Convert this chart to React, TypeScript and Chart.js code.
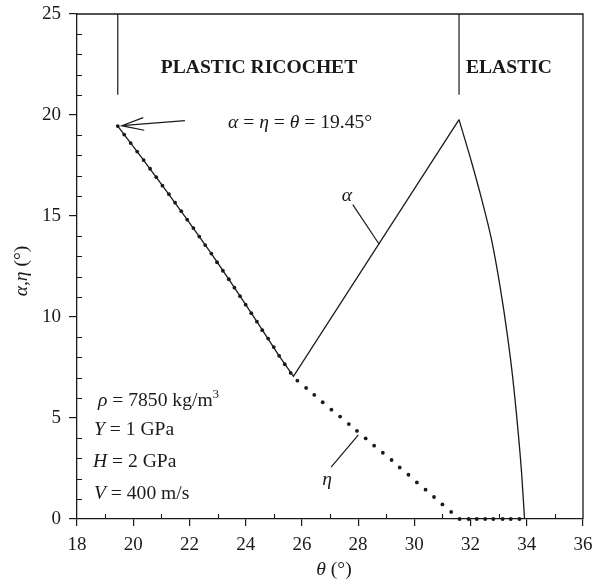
import React, { useEffect, useRef } from 'react';
import { Chart, registerables } from 'chart.js';

Chart.register(...registerables);

const SERIF = '"Liberation Serif", "Times New Roman", Times, serif';
const INK = '#1a1a1a';

// Axis ticks
const xTickValues = [18, 20, 22, 24, 26, 28, 30, 32, 34, 36];
const yTickValues = [0, 5, 10, 15, 20, 25];

// eta (dotted markers)
const etaTheta = [
  19.45, 19.68, 19.91, 20.14, 20.37, 20.6, 20.82, 21.04, 21.27, 21.49,
  21.71, 21.92, 22.14, 22.35, 22.56, 22.78, 22.98, 23.19, 23.4, 23.6,
  23.8, 24.0, 24.2, 24.4, 24.59, 24.8, 25.0, 25.19, 25.39, 25.6,
  25.84, 26.15, 26.44, 26.74, 27.05, 27.36, 27.67, 27.96, 28.27, 28.57,
  28.88, 29.19, 29.48, 29.79, 30.09, 30.4, 30.7, 31.0, 31.31,
  31.61, 31.93, 32.22, 32.52, 32.81, 33.14, 33.43, 33.74,
];
const etaValues = [
  19.45, 19.03, 18.61, 18.19, 17.77, 17.34, 16.92, 16.5, 16.08, 15.66,
  15.24, 14.82, 14.4, 13.98, 13.56, 13.14, 12.71, 12.29, 11.87, 11.45,
  11.03, 10.61, 10.19, 9.77, 9.35, 8.93, 8.51, 8.08, 7.66, 7.23,
  6.85, 6.49, 6.14, 5.78, 5.41, 5.07, 4.7, 4.36, 3.99, 3.63,
  3.28, 2.92, 2.55, 2.19, 1.81, 1.45, 1.09, 0.72, 0.35,
  0, 0, 0, 0, 0, 0, 0, 0,
];

// alpha, plastic-ricochet branch (solid, straight segments)
const alphaRiseTheta = [19.45, 20.14, 21.04, 21.92, 22.78, 23.6, 24.4, 25.19, 25.7, 31.59];
const alphaRiseValues = [19.45, 18.19, 16.5, 14.82, 13.14, 11.45, 9.77, 8.08, 7.06, 19.77];

// alpha, elastic branch (solid, smooth)
const alphaFallTheta = [31.59, 32.05, 32.42, 32.75, 33.05, 33.3, 33.5, 33.68, 33.82, 33.92];
const alphaFallValues = [19.77, 17.6, 15.7, 13.8, 11.5, 9.2, 7.0, 4.5, 2.2, 0];

// regime boundary markers
const boundaryTheta = [19.45, 31.59];
const boundarySpan = [21, 25];

// annotation geometry (data coordinates)
const arrowTail = [21.84, 19.72];
const arrowTip = [19.59, 19.47];
const alphaLeader = [[27.81, 15.56], [28.75, 13.6]];
const etaLeader = [[27.04, 2.57], [28.01, 4.17]];

type Run = { t: string; i?: boolean; b?: boolean; sup?: boolean };

function font(size: number, r: Run) {
  return `${r.i ? 'italic ' : ''}${r.b ? 'bold ' : ''}${r.sup ? Math.round(size * 0.65) : size}px ${SERIF}`;
}
function runsWidth(ctx: CanvasRenderingContext2D, runs: Run[], size: number) {
  let w = 0;
  for (const r of runs) {
    ctx.font = font(size, r);
    w += ctx.measureText(r.t).width;
  }
  return w;
}
function drawRuns(ctx: CanvasRenderingContext2D, runs: Run[], x: number, y: number, size: number, align: 'left' | 'center' = 'left') {
  let cx = align === 'center' ? x - runsWidth(ctx, runs, size) / 2 : x;
  ctx.textAlign = 'left';
  ctx.textBaseline = 'alphabetic';
  for (const r of runs) {
    ctx.font = font(size, r);
    ctx.fillText(r.t, cx, r.sup ? y - size * 0.42 : y);
    cx += ctx.measureText(r.t).width;
  }
}

const decorPlugin = {
  id: 'decor',
  afterDraw(chart: any) {
    const ctx: CanvasRenderingContext2D = chart.ctx;
    const xs = chart.scales.x;
    const ys = chart.scales.y;
    const { left, right, top, bottom } = chart.chartArea;
    const px = (v: number) => xs.getPixelForValue(v);
    const py = (v: number) => ys.getPixelForValue(v);
    ctx.save();
    ctx.strokeStyle = INK;
    ctx.fillStyle = INK;
    // frame top/right
    ctx.lineWidth = 1.3;
    ctx.beginPath();
    ctx.moveTo(left, top);
    ctx.lineTo(right, top);
    ctx.lineTo(right, bottom);
    ctx.stroke();
    // minor inward ticks
    ctx.lineWidth = 1.1;
    ctx.beginPath();
    for (let v = xs.min + 1; v < xs.max; v += 2) {
      const x = Math.round(px(v)) + 0.5;
      ctx.moveTo(x, bottom);
      ctx.lineTo(x, bottom - 5);
    }
    for (let v = ys.min; v < ys.max; v += 1) {
      if (v % 5 === 0) continue;
      const y = Math.round(py(v)) + 0.5;
      ctx.moveTo(left, y);
      ctx.lineTo(left + 5, y);
    }
    ctx.stroke();
    // arrow
    ctx.lineWidth = 1.2;
    const tx = px(arrowTip[0]), ty = py(arrowTip[1]);
    const sx = px(arrowTail[0]), sy = py(arrowTail[1]);
    const ang = Math.atan2(sy - ty, sx - tx);
    ctx.beginPath();
    ctx.moveTo(sx, sy);
    ctx.lineTo(tx, ty);
    const hl = 23, ha = (16 * Math.PI) / 180;
    ctx.moveTo(tx + hl * Math.cos(ang - ha), ty + hl * Math.sin(ang - ha));
    ctx.lineTo(tx, ty);
    ctx.lineTo(tx + hl * Math.cos(ang + ha), ty + hl * Math.sin(ang + ha));
    ctx.stroke();
    // leaders
    ctx.beginPath();
    for (const seg of [alphaLeader, etaLeader]) {
      ctx.moveTo(px(seg[0][0]), py(seg[0][1]));
      ctx.lineTo(px(seg[1][0]), py(seg[1][1]));
    }
    ctx.stroke();
    // texts
    const fs = 19.6;
    drawRuns(ctx, [{ t: 'PLASTIC RICOCHET', b: true }], 259, 73, fs, 'center');
    drawRuns(ctx, [{ t: 'ELASTIC', b: true }], 509, 73, fs, 'center');
    drawRuns(ctx, [{ t: 'α', i: true }, { t: ' = ' }, { t: 'η', i: true }, { t: ' = ' }, { t: 'θ', i: true }, { t: ' = 19.45°' }], 228, 128, fs);
    drawRuns(ctx, [{ t: 'α', i: true }], 347, 201, fs, 'center');
    drawRuns(ctx, [{ t: 'η', i: true }], 327, 485, fs, 'center');
    drawRuns(ctx, [{ t: 'ρ', i: true }, { t: ' = 7850 kg/m' }, { t: '3', sup: true }], 98, 406, fs);
    drawRuns(ctx, [{ t: 'Y', i: true }, { t: ' = 1 GPa' }], 94, 435, fs);
    drawRuns(ctx, [{ t: 'H', i: true }, { t: ' = 2 GPa' }], 93, 467, fs);
    drawRuns(ctx, [{ t: 'V', i: true }, { t: ' = 400 m/s' }], 94, 499, fs);
    drawRuns(ctx, [{ t: 'θ', i: true }, { t: ' (°)' }], 334, 575, fs, 'center');
    ctx.save();
    ctx.translate(27, 271);
    ctx.rotate(-Math.PI / 2);
    drawRuns(ctx, [{ t: 'α', i: true }, { t: ',' }, { t: 'η', i: true }, { t: ' (°)' }], 0, 0, fs, 'center');
    ctx.restore();
    ctx.restore();
  },
};

export default function App() {
  const ref = useRef<HTMLCanvasElement | null>(null);
  useEffect(() => {
    if (!ref.current) return;
    const chart = new Chart(ref.current, {
      type: 'scatter',
      data: {
        datasets: [
          {
            label: 'α plastic',
            data: alphaRiseTheta.map((t, i) => ({ x: t, y: alphaRiseValues[i] })),
            showLine: true,
            borderColor: INK,
            borderWidth: 1.3,
            pointRadius: 0,
            tension: 0,
          },
          {
            label: 'α elastic',
            data: alphaFallTheta.map((t, i) => ({ x: t, y: alphaFallValues[i] })),
            showLine: true,
            borderColor: INK,
            borderWidth: 1.3,
            pointRadius: 0,
            cubicInterpolationMode: 'monotone',
          },
          {
            label: 'η',
            data: etaTheta.map((t, i) => ({ x: t, y: etaValues[i] })),
            showLine: false,
            backgroundColor: INK,
            borderColor: INK,
            borderWidth: 0,
            pointRadius: 1.9,
            clip: false,
          },
          ...boundaryTheta.map((t) => ({
            label: 'boundary',
            data: boundarySpan.map((v) => ({ x: t, y: v })),
            showLine: true,
            borderColor: INK,
            borderWidth: 1.2,
            pointRadius: 0,
          })),
        ],
      },
      options: {
        responsive: false,
        animation: false,
        devicePixelRatio: 1,
        layout: { padding: { left: 0, top: 14, right: 9, bottom: 0 } },
        plugins: { legend: { display: false }, tooltip: { enabled: false } },
        scales: {
          x: {
            type: 'linear',
            min: 18,
            max: 36,
            afterBuildTicks: (s: any) => { s.ticks = xTickValues.map((v) => ({ value: v })); },
            afterFit: (s: any) => { s.height = 65; s.paddingLeft = 0; s.paddingRight = 0; },
            grid: { display: true, drawOnChartArea: false, drawTicks: true, tickLength: 7, color: INK, lineWidth: 1.2 },
            border: { display: true, color: INK, width: 1.3 },
            ticks: { color: INK, font: { family: SERIF, size: 19 }, padding: 8, maxRotation: 0 },
          },
          y: {
            type: 'linear',
            min: 0,
            max: 25,
            afterBuildTicks: (s: any) => { s.ticks = yTickValues.map((v) => ({ value: v })); },
            afterFit: (s: any) => { s.width = 77; s.paddingTop = 0; s.paddingBottom = 0; },
            grid: { display: true, drawOnChartArea: false, drawTicks: true, tickLength: 8, color: INK, lineWidth: 1.2 },
            border: { display: true, color: INK, width: 1.3 },
            ticks: { color: INK, font: { family: SERIF, size: 19 }, padding: 8 },
          },
        },
      },
      plugins: [decorPlugin],
    } as any);
    return () => chart.destroy();
  }, []);
  return (
    <div style={{ position: 'absolute', left: 0, top: 0, width: 592, height: 584, background: '#fff' }}>
      <canvas ref={ref} width={592} height={584} />
    </div>
  );
}
